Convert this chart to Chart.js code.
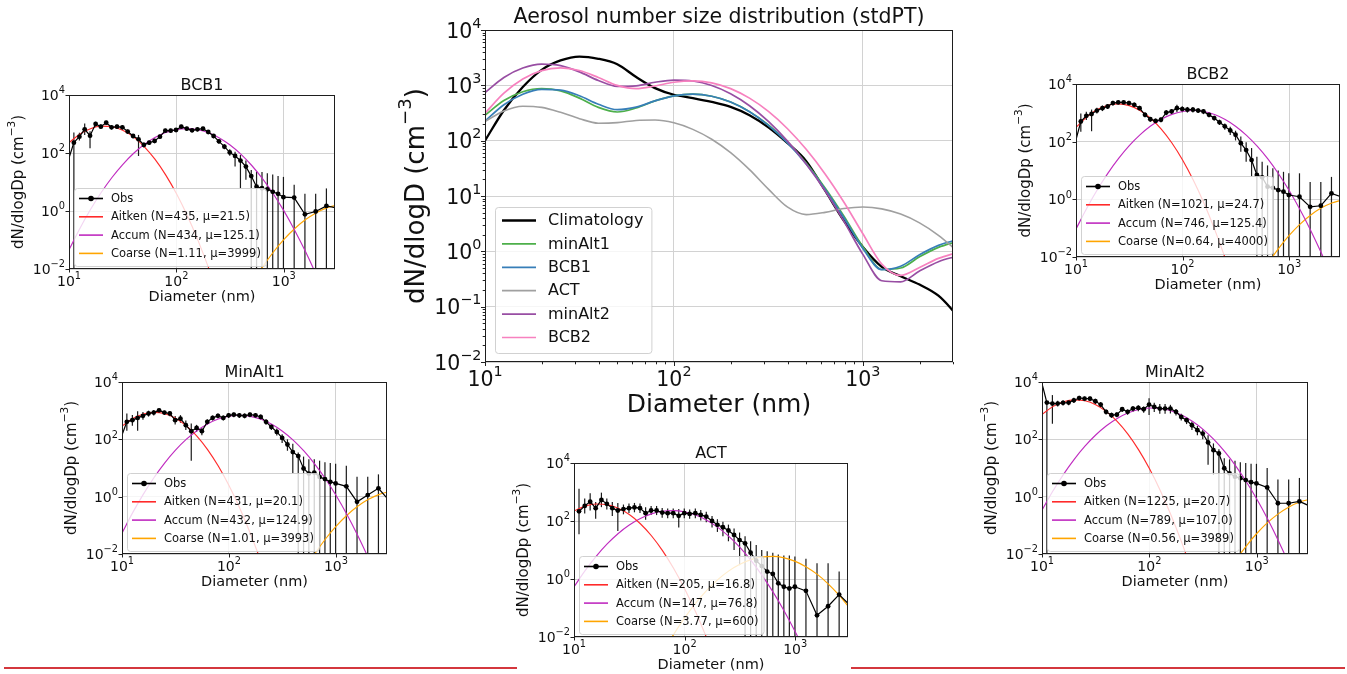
<!DOCTYPE html>
<html>
<head>
<meta charset="utf-8">
<script src="https://cdn.jsdelivr.net/npm/chart.js@4.4.1/dist/chart.umd.min.js"></script>
<style>
  html, body { margin: 0; padding: 0; background: #fff; }
  body { width: 1347px; height: 674px; position: relative; overflow: hidden; }
  canvas { position: absolute; }
  .rule { position: absolute; top: 667px; height: 2px; background: #d4373d; }
</style>
</head>
<body>
<div class="rule" style="left:4px;width:513px"></div>
<div class="rule" style="left:851px;width:494px"></div>
<script>
// diameters (nm) of the fitted / summed curves and of the observed bins
const FIT_D = [10, 12.59, 15.85, 19.95, 25.12, 31.62, 39.81, 50.12, 63.1, 79.43, 100, 125.9, 158.5,
  199.5, 251.2, 316.2, 398.1, 501.2, 631, 794.3, 1000, 1259, 1585, 1995, 2512, 3162];
const OBS_D = [9.2, 11.1, 12.5, 14.0, 15.7, 17.7, 19.8, 22.2, 24.9, 28.0, 31.4, 35.2, 39.5, 44.4, 49.8,
  55.8, 62.7, 70.3, 78.9, 88.5, 99.3, 111, 125, 140, 157, 177, 198, 222, 249, 280, 314, 352, 395, 444,
  498, 558, 627, 703, 789, 885, 993, 1250, 1574, 1982, 2495, 3200];

// ---- BCB1
const bcb1Obs = [25, 227, 366, 655, 396, 1000, 810, 1110, 770, 810, 770, 550, 385, 297, 190, 227, 260, 366,
  590, 590, 620, 810, 690, 605, 655, 690, 530, 385, 252, 165, 105, 79, 55, 34, 16, 6.9, 6.1, 5.6, 4.6, 3.9,
  3.0, 2.9, 0.77, 0.96, 1.5, 1.25];
const bcb1Hi = [null, 513, 500, 1050, 560, 1200, 980, 1300, 900, 960, 900, 650, 450, 420, 230, 270, 310, 430,
  690, 690, 720, 940, 800, 700, 760, 800, 620, 450, 300, 200, 135, 110, 85, 55, 26, 23, 22, 20, 18, 16, 15,
  8, 3.9, 3.9, 6, null];
const bcb1Lo = [null, 0.001, 270, 420, 145, 820, 680, 940, 650, 680, 650, 460, 320, 79, 155, 190, 215, 310,
  500, 500, 530, 690, 590, 520, 560, 590, 450, 325, 210, 135, 80, 34, 6, 12, 0.001, 0.001, 0.001, 0.001,
  0.001, 0.001, 0.001, 0.001, 0.001, 0.001, 0.001, null];
const bcb1Ait = [226, 446, 690, 841, 805, 607, 359, 167, 61.2, 17.6, 3.99, 0.71, 0.099, 0.0109, 0.00095,
  null, null, null, null, null, null, null, null, null, null, null];
const bcb1Acc = [0.0461, 0.246, 1.12, 4.33, 14.3, 40.1, 96.2, 196, 342, 507, 641, 692, 635, 498, 332, 189,
  91.6, 37.8, 13.3, 4.01, 1.03, 0.223, 0.0415, 0.00658, 0.00089, 0.0001];
const bcb1Coa = [null, null, null, null, null, null, null, null, null, null, null, null, null, null, null,
  0.00013, 0.00068, 0.00301, 0.0114, 0.0371, 0.103, 0.244, 0.497, 0.861, 1.28, 1.62];

// ---- BCB2
const bcb2Obs = [37, 500, 790, 910, 1200, 1450, 1660, 2180, 2300, 2300, 2180, 1900, 1450, 855, 600, 525, 575,
  1020, 1120, 1450, 1350, 1290, 1290, 1200, 1120, 850, 660, 470, 340, 245, 174, 89, 51, 23, 7, 5.8, 2.75,
  2.5, 2.1, 1.84, 1.41, 1.23, 0.55, 0.6, 1.6, 1.17];
const bcb2Hi = [null, 950, 1100, 1300, 1500, 1800, 2000, 2600, 2700, 2700, 2600, 2300, 1750, 1050, 720, 630,
  690, 1250, 1350, 1900, 1700, 1600, 1600, 1450, 1350, 1020, 800, 580, 430, 330, 240, 150, 95, 60, 30, 20,
  15, 12, 10, 9, 8, 8, 4, 4, 6, null];
const bcb2Lo = [null, 220, 560, 230, 950, 1150, 1350, 1800, 1950, 1950, 1800, 1550, 1200, 700, 490, 430, 470,
  820, 920, 1050, 1050, 1020, 1020, 980, 900, 700, 540, 380, 260, 170, 110, 45, 20, 6, 0.001, 0.001, 0.001,
  0.001, 0.001, 0.001, 0.001, 0.001, 0.001, 0.001, 0.001, null];
const bcb2Ait = [313, 719, 1297, 1837, 2042, 1778, 1213, 650, 273, 89.7, 23.2, 4.69, 0.745, 0.0927, 0.00904,
  0.00069, null, null, null, null, null, null, null, null, null, null];
const bcb2Acc = [0.0931, 0.483, 2.14, 8.09, 26.2, 72.6, 171, 347, 598, 883, 1114, 1202, 1109, 873, 587, 338,
  166, 69.8, 25.1, 7.71, 2.02, 0.453, 0.0869, 0.0142, 0.00199, 0.000238];
const bcb2Coa = [null, null, null, null, null, null, null, null, null, null, null, null, null, null, null,
  null, 0.00032, 0.00147, 0.0058, 0.0195, 0.0558, 0.136, 0.281, 0.497, 0.745, 0.953];

// ---- MinAlt1
const ma1Obs = [60, 407, 467, 560, 660, 795, 855, 1025, 855, 795, 467, 527, 311, 192, 250, 192, 407, 560, 660,
  560, 690, 725, 690, 660, 725, 690, 605, 407, 270, 182, 112, 66, 36, 26, 9.6, 6.4, 6.9, 4.9, 4.1, 3.3, 2.9,
  2.3, 0.66, 1.14, 1.96, 0.67];
const ma1Hi = [null, 800, 700, 950, 900, 1000, 1050, 1200, 1000, 950, 650, 700, 450, 360, 320, 250, 500, 680,
  800, 680, 830, 870, 830, 800, 870, 830, 730, 500, 340, 240, 150, 100, 70, 35, 25, 20, 20, 18, 16, 15, 14,
  12, 5, 5, 6, null];
const ma1Lo = [null, 200, 300, 200, 480, 620, 680, 860, 700, 640, 330, 380, 210, 18, 180, 140, 320, 450, 540,
  450, 560, 590, 560, 540, 590, 560, 490, 320, 210, 135, 75, 40, 6.5, 0.001, 0.001, 0.001, 0.001, 0.001,
  0.001, 0.001, 0.001, 0.001, 0.001, 0.001, 0.001, null];
const ma1Ait = [287, 530, 766, 871, 778, 545, 300, 130, 44.0, 11.7, 2.45, 0.403, 0.052, 0.00526, 0.00042,
  null, null, null, null, null, null, null, null, null, null, null];
const ma1Acc = [0.0535, 0.278, 1.23, 4.68, 15.2, 42.0, 99.3, 200, 346, 511, 643, 692, 635, 499, 335, 192,
  94.0, 39.3, 14.0, 4.29, 1.12, 0.249, 0.0473, 0.00769, 0.00107, 0.000127];
const ma1Coa = [null, null, null, null, null, null, null, null, null, null, null, null, null, null, null,
  null, 0.00057, 0.00256, 0.0099, 0.0327, 0.092, 0.221, 0.452, 0.789, 1.18, 1.5];

// ---- MinAlt2
const ma2Obs = [30000, 1910, 1770, 1770, 1870, 1910, 2300, 2760, 2620, 2620, 2130, 1630, 910, 695, 727, 1120,
  910, 1180, 1250, 1120, 1630, 1350, 1180, 1180, 1180, 910, 605, 465, 310, 208, 159, 78, 42, 32, 9.8, 6.5,
  5.0, 4.4, 3.8, 3.2, 2.9, 2.1, 0.59, 0.59, 0.68, 0.45];
const ma2Hi = [null, 2100, 3500, 2200, 2300, 2300, 2800, 3300, 3100, 3100, 2600, 2000, 1100, 850, 880, 1350,
  1100, 1450, 1550, 1400, 2700, 1900, 1700, 1700, 1600, 1150, 780, 600, 420, 290, 220, 140, 72, 45, 22, 20,
  18, 16, 15, 14, 14, 10, 4, 4, 4.5, null];
const ma2Lo = [null, 0.001, 350, 1400, 1500, 1550, 1850, 2250, 2150, 2150, 1700, 1300, 730, 560, 590, 900,
  720, 900, 950, 850, 700, 900, 780, 780, 800, 680, 450, 340, 210, 140, 100, 13, 5.7, 0.001, 0.001, 0.001,
  0.001, 0.001, 0.001, 0.001, 0.001, 0.001, 0.001, 0.001, 0.001, null];
const ma2Ait = [738, 1384, 2046, 2393, 2208, 1607, 925, 420, 151, 42.7, 9.55, 1.69, 0.235, 0.0259, 0.00225,
  0.000154, null, null, null, null, null, null, null, null, null, null];
const ma2Acc = [0.337, 1.54, 6.01, 20.1, 57.8, 142, 299, 537, 828, 1094, 1236, 1197, 993, 705, 428, 223,
  99.1, 37.8, 12.4, 3.46, 0.828, 0.17, 0.0298, 0.00448, 0.000577, 0.0000636];
const ma2Coa = [null, null, null, null, null, null, null, null, null, null, null, null, null, null, null,
  null, 0.00033, 0.00149, 0.0057, 0.0186, 0.0519, 0.124, 0.251, 0.437, 0.649, 0.822];

// ---- ACT
const actObs = [null, 215, 330, 465, 277, 535, 390, 277, 230, 257, 277, 293, 277, 186, 230, 230, 195, 186,
  186, 151, 186, 176, 186, 162, 142, 100, 74, 61, 47, 33, 22, 17, 8.1, 4.3, 2.8, 1.8, 1.5, 0.71, 0.54, 0.47,
  0.54, 0.39, 0.056, 0.115, 0.29, 0.112];
const actHi = [null, 1300, 600, 900, 450, 950, 600, 450, 420, 370, 400, 420, 400, 300, 330, 330, 280, 270, 270,
  260, 270, 250, 270, 240, 210, 150, 115, 95, 75, 55, 40, 30, 20, 15, 10, 9, 8, 7, 6.5, 6.5, 6, 5, 3.5, 3.5,
  1.8, null];
const actLo = [null, 35, 180, 230, 120, 300, 250, 150, 45, 170, 190, 200, 190, 110, 160, 160, 130, 125, 125,
  60, 125, 120, 125, 105, 90, 60, 42, 30, 20, 10, 3, 0.001, 0.001, 0.001, 0.001, 0.001, 0.001, 0.001, 0.001,
  0.001, 0.001, 0.001, 0.001, 0.001, 0.001, null];
const actAit = [221, 327, 386, 366, 276, 167, 80.4, 31.0, 9.55, 2.35, 0.462, 0.0728, 0.00914, 0.00092,
  0.000073, null, null, null, null, null, null, null, null, null, null, null];
const actAcc = [0.535, 1.95, 6.07, 16.2, 37.2, 72.8, 122, 176, 217, 229, 207, 160, 106, 60.4, 29.4, 12.3,
  4.39, 1.34, 0.352, 0.0793, 0.0152, 0.00251, 0.000355, null, null, null];
const actCoa = [null, null, null, null, null, null, null, 0.00052, 0.0027, 0.0121, 0.0458, 0.148, 0.408,
  0.955, 1.91, 3.23, 4.67, 5.74, 6.0, 5.35, 4.05, 2.61, 1.44, 0.67, 0.267, 0.0902];

// ---- main panel: size distributions
const climatology = [100, 355, 933, 1905, 2818, 3311, 3020, 2400, 1413, 891, 676, 589, 501, 407, 288, 174, 91,
  42.7, 12.6, 3.55, 1.2, 0.525, 0.355, 0.251, 0.158, 0.07];
const minAlt1Dist = [287, 530, 767, 876, 793, 587, 399, 330, 390, 523, 645, 692, 635, 499, 335, 192, 94.0,
  39.3, 14.0, 4.32, 1.21, 0.47, 0.499, 0.797, 1.18, 1.5];
const bcb1Dist = [226, 446, 691, 845, 819, 647, 455, 363, 403, 525, 645, 693, 635, 498, 332, 189, 91.6, 37.8,
  13.3, 4.05, 1.13, 0.467, 0.539, 0.868, 1.28, 1.62];
const actDist = [222, 345, 420, 400, 325, 250, 207, 212, 232, 236, 210, 160, 106, 60.6, 29.9, 13.3, 6.34,
  4.61, 5.06, 5.94, 6.33, 5.86, 4.71, 3.27, 1.95, 1.01];
const minAlt2Dist = [738, 1386, 2052, 2413, 2266, 1749, 1224, 957, 979, 1137, 1246, 1199, 993, 705, 428, 223,
  99.1, 37.8, 12.4, 3.48, 0.88, 0.294, 0.281, 0.441, 0.65, 0.822];
const bcb2Dist = [313, 720, 1299, 1845, 2068, 1851, 1384, 997, 871, 973, 1137, 1207, 1110, 873, 587, 338, 166,
  69.8, 25.1, 7.73, 2.08, 0.589, 0.368, 0.511, 0.747, 0.953];

// axis ticks
const X_TICKS = [10, 100, 1000];
const Y_TICKS_SMALL = [0.01, 1, 100, 10000];
const Y_TICKS_MAIN = [0.01, 0.1, 1, 10, 100, 1000, 10000];

const FONT = '"DejaVu Sans", sans-serif';
const GRID = '#d2d2d2';
const RED = '#ff2a2a', MAG = '#c02cc0', ORANGE = '#ffa500';

const pts = (xs, ys) => xs.map((x, i) => ({ x, y: ys[i] }));
const powParts = v => [{ t: '10' }, { t: String(Math.round(Math.log10(v))).replace('-', '−'), sup: true }];

const minorTicks = (lo, hi) => {
  const out = [];
  for (let e = lo; e < hi; e++) for (let k = 2; k <= 9; k++) out.push(k * Math.pow(10, e));
  return out;
};

// text with mathtext-like superscripts, vertically centred on y
function drawRich(ctx, parts, s, x, y, align) {
  const widths = parts.map(p => {
    ctx.font = (p.sup ? s * 0.7 : s) + 'px ' + FONT;
    return ctx.measureText(p.t).width;
  });
  const total = widths.reduce((a, b) => a + b, 0);
  let cx = align === 'center' ? x - total / 2 : align === 'right' ? x - total : x;
  ctx.textAlign = 'left';
  ctx.textBaseline = 'middle';
  parts.forEach((p, i) => {
    ctx.font = (p.sup ? s * 0.7 : s) + 'px ' + FONT;
    ctx.fillText(p.t, cx, p.sup ? y - 0.42 * s : y);
    cx += widths[i];
  });
}

// frame, tick marks, tick labels, titles, error bars and boxed legend
const decor = {
  id: 'decor',
  beforeDatasetsDraw(chart, args, o) {
    const { ctx, chartArea: a, scales: { x, y } } = chart;
    ctx.save();
    ctx.beginPath();
    ctx.rect(a.left, a.top, a.right - a.left, a.bottom - a.top);
    ctx.clip();
    chart.data.datasets.forEach(ds => {
      if (!ds.errHi) return;
      ctx.strokeStyle = '#1a1a1a';
      ctx.lineWidth = 1.2;
      ds.data.forEach((p, i) => {
        const hi = ds.errHi[i], lo = ds.errLo[i];
        if (hi == null || lo == null) return;
        const px = x.getPixelForValue(p.x);
        ctx.beginPath();
        ctx.moveTo(px, y.getPixelForValue(hi));
        ctx.lineTo(px, y.getPixelForValue(lo));
        ctx.stroke();
      });
    });
    ctx.restore();
  },
  afterDraw(chart, args, o) {
    const { ctx, chartArea: a, scales: { x, y } } = chart;
    ctx.save();
    // tick marks
    ctx.strokeStyle = '#222';
    ctx.lineWidth = 1;
    const tx = (v, len) => {
      const p = Math.round(x.getPixelForValue(v)) + 0.5;
      ctx.beginPath(); ctx.moveTo(p, a.bottom); ctx.lineTo(p, a.bottom + len); ctx.stroke();
    };
    const ty = (v, len) => {
      const p = Math.round(y.getPixelForValue(v)) + 0.5;
      ctx.beginPath(); ctx.moveTo(a.left - len, p); ctx.lineTo(a.left, p); ctx.stroke();
    };
    X_TICKS.forEach(v => tx(v, o.tickLen));
    o.yTicks.forEach(v => ty(v, o.tickLen));
    (o.xMinor || []).filter(v => v <= 3000).forEach(v => tx(v, o.minorLen));
    (o.yMinor || []).forEach(v => ty(v, o.minorLen));
    // frame
    ctx.strokeStyle = '#1e1e1e';
    ctx.strokeRect(a.left + 0.5, a.top + 0.5, a.right - a.left - 1, a.bottom - a.top - 1);
    // tick labels
    ctx.fillStyle = '#111';
    X_TICKS.forEach(v => drawRich(ctx, powParts(v), o.tickSize, x.getPixelForValue(v), a.bottom + o.xLabDy, 'center'));
    o.yTicks.forEach(v => drawRich(ctx, powParts(v), o.tickSize, a.left - o.yLabDx, y.getPixelForValue(v) + o.yLabOff, 'right'));
    // titles
    ctx.textAlign = 'center';
    ctx.textBaseline = 'middle';
    ctx.font = o.titleSize + 'px ' + FONT;
    ctx.fillText(o.title, (a.left + a.right) / 2, a.top + o.titleDy);
    ctx.font = o.axisSize + 'px ' + FONT;
    ctx.fillText('Diameter (nm)', (a.left + a.right) / 2, a.bottom + o.xTitleDy);
    ctx.save();
    ctx.translate(a.left + o.yTitleDx, (a.top + a.bottom) / 2);
    ctx.rotate(-Math.PI / 2);
    drawRich(ctx, [{ t: o.yTitle }, { t: '−3', sup: true }, { t: ')' }], o.yAxisSize, 0, 0, 'center');
    ctx.restore();
    // legend
    const lg = o.legend;
    const rows = chart.data.datasets;
    ctx.font = lg.size + 'px ' + FONT;
    const tw = Math.max(...rows.map(d => ctx.measureText(d.label).width));
    const bw = lg.textX + tw + lg.padR;
    const bx = a.left + lg.dx, by = a.bottom - lg.dy - lg.h;
    ctx.beginPath();
    ctx.roundRect(bx + 0.5, by + 0.5, bw, lg.h, 3);
    ctx.fillStyle = 'rgba(255,255,255,0.8)';
    ctx.fill();
    ctx.strokeStyle = 'rgba(204,204,204,0.9)';
    ctx.lineWidth = 1;
    ctx.stroke();
    ctx.textAlign = 'left';
    ctx.textBaseline = 'middle';
    rows.forEach((d, i) => {
      const cy = by + lg.first + i * lg.rowH;
      ctx.strokeStyle = d.borderColor;
      ctx.lineWidth = Math.max(d.borderWidth, lg.minLw);
      ctx.beginPath(); ctx.moveTo(bx + lg.x0, cy); ctx.lineTo(bx + lg.x1, cy); ctx.stroke();
      if (d.pointRadius) {
        ctx.fillStyle = d.borderColor;
        ctx.beginPath(); ctx.arc(bx + (lg.x0 + lg.x1) / 2, cy, d.pointRadius + 0.4, 0, 2 * Math.PI); ctx.fill();
      }
      ctx.fillStyle = '#111';
      ctx.fillText(d.label, bx + lg.textX, cy + 0.5);
    });
    ctx.restore();
  }
};

function makeChart(g, datasets, deco) {
  const c = document.createElement('canvas');
  const w = g.R - g.L + g.yw + g.pr;
  const h = g.B - g.T + g.pt + g.xh;
  c.width = w; c.height = h;
  c.style.width = w + 'px'; c.style.height = h + 'px';
  c.style.left = (g.L - g.yw) + 'px';
  c.style.top = (g.T - g.pt) + 'px';
  document.body.appendChild(c);
  return new Chart(c, {
    type: 'line',
    data: { datasets },
    options: {
      responsive: false,
      animation: false,
      devicePixelRatio: 1,
      events: [],
      layout: { padding: { left: 0, top: g.pt, right: g.pr, bottom: 0 } },
      elements: { line: { capBezierPoints: false } },
      plugins: { legend: { display: false }, tooltip: { enabled: false }, decor: deco },
      scales: {
        x: {
          type: 'logarithmic', min: 10, max: 3000,
          afterBuildTicks: s => { s.ticks = X_TICKS.map(value => ({ value })); },
          afterFit: s => { s.height = g.xh; },
          ticks: { display: false, autoSkip: false, maxRotation: 0 },
          grid: { color: GRID, lineWidth: 1, drawTicks: false },
          border: { display: false }
        },
        y: {
          type: 'logarithmic', min: 0.01, max: 10000,
          afterBuildTicks: s => { s.ticks = deco.yTicks.map(value => ({ value })); },
          afterFit: s => { s.width = g.yw; },
          ticks: { display: false, autoSkip: false },
          grid: { color: GRID, lineWidth: 1, drawTicks: false },
          border: { display: false }
        }
      }
    },
    plugins: [decor]
  });
}

function panel(g, title, obs, hi, lo, ait, acc, coa, labels) {
  const datasets = [
    { label: 'Obs', data: pts(OBS_D, obs), errHi: hi, errLo: lo, borderColor: '#000', backgroundColor: '#000',
      borderWidth: 1.2, pointRadius: 2.4, pointBackgroundColor: '#000', pointBorderWidth: 0, tension: 0, clip: 0 },
    { label: labels[0], data: pts(FIT_D, ait), borderColor: RED, borderWidth: 1.15, pointRadius: 0,
      cubicInterpolationMode: 'monotone', clip: 0 },
    { label: labels[1], data: pts(FIT_D, acc), borderColor: MAG, borderWidth: 1.15, pointRadius: 0,
      cubicInterpolationMode: 'monotone', clip: 0 },
    { label: labels[2], data: pts(FIT_D, coa), borderColor: ORANGE, borderWidth: 1.15, pointRadius: 0,
      cubicInterpolationMode: 'monotone', clip: 0 }
  ];
  const deco = {
    title, yTitle: 'dN/dlogDp (cm', yTicks: Y_TICKS_SMALL, tickLen: 3.5, minorLen: 0,
    tickSize: 14, xLabDy: 13, yLabDx: 4, yLabOff: 1.5,
    titleSize: 16, axisSize: 14.5, yAxisSize: 15, titleDy: -9.5, xTitleDy: 28.5, yTitleDx: -50,
    legend: { size: 11.5, dx: 5, dy: 3, h: 78, first: 10.5, rowH: 18.3, x0: 5, x1: 29, textX: 37, padR: 5, minLw: 1.6 }
  };
  return makeChart(Object.assign({ yw: 70, pt: 30, pr: 10, xh: 44 }, g), datasets, deco);
}

panel({ L: 69, T: 95, R: 335, B: 269 }, 'BCB1', bcb1Obs, bcb1Hi, bcb1Lo, bcb1Ait, bcb1Acc, bcb1Coa,
  ['Aitken (N=435, μ=21.5)', 'Accum (N=434, μ=125.1)', 'Coarse (N=1.11, μ=3999)']);
panel({ L: 1076, T: 84, R: 1340, B: 257 }, 'BCB2', bcb2Obs, bcb2Hi, bcb2Lo, bcb2Ait, bcb2Acc, bcb2Coa,
  ['Aitken (N=1021, μ=24.7)', 'Accum (N=746, μ=125.4)', 'Coarse (N=0.64, μ=4000)']);
panel({ L: 122, T: 382, R: 387, B: 554 }, 'MinAlt1', ma1Obs, ma1Hi, ma1Lo, ma1Ait, ma1Acc, ma1Coa,
  ['Aitken (N=431, μ=20.1)', 'Accum (N=432, μ=124.9)', 'Coarse (N=1.01, μ=3993)']);
panel({ L: 1042, T: 382, R: 1308, B: 554 }, 'MinAlt2', ma2Obs, ma2Hi, ma2Lo, ma2Ait, ma2Acc, ma2Coa,
  ['Aitken (N=1225, μ=20.7)', 'Accum (N=789, μ=107.0)', 'Coarse (N=0.56, μ=3989)']);
panel({ L: 574, T: 463, R: 848, B: 637 }, 'ACT', actObs, actHi, actLo, actAit, actAcc, actCoa,
  ['Aitken (N=205, μ=16.8)', 'Accum (N=147, μ=76.8)', 'Coarse (N=3.77, μ=600)']);

// main panel
const mainLine = (label, values, color, width, order) => ({
  label, data: pts(FIT_D, values), borderColor: color, borderWidth: width, pointRadius: 0,
  cubicInterpolationMode: 'monotone', clip: 0, order
});
makeChart({ L: 485, T: 30, R: 953, B: 362, yw: 90, pt: 30, pr: 10, xh: 64 }, [
  mainLine('Climatology', climatology, '#000000', 2.3, 6),
  mainLine('minAlt1', minAlt1Dist, '#4daf4a', 1.7, 5),
  mainLine('BCB1', bcb1Dist, '#377eb8', 1.7, 4),
  mainLine('ACT', actDist, '#a0a0a0', 1.6, 3),
  mainLine('minAlt2', minAlt2Dist, '#984ea3', 1.7, 2),
  mainLine('BCB2', bcb2Dist, '#f781bf', 1.7, 1)
], {
  title: 'Aerosol number size distribution (stdPT)', yTitle: 'dN/dlogD (cm', yTicks: Y_TICKS_MAIN,
  xMinor: minorTicks(1, 4), yMinor: minorTicks(-2, 4), tickLen: 4, minorLen: 2.3,
  tickSize: 20.5, xLabDy: 18.5, yLabDx: 3.5, yLabOff: 2.5,
  titleSize: 20.5, axisSize: 25, yAxisSize: 26, titleDy: -12, xTitleDy: 43, yTitleDx: -68,
  legend: { size: 16, dx: 10, dy: 9, h: 146, first: 13.5, rowH: 23.4, x0: 7, x1: 41, textX: 53, padR: 8, minLw: 1.7 }
});
</script>
</body>
</html>
